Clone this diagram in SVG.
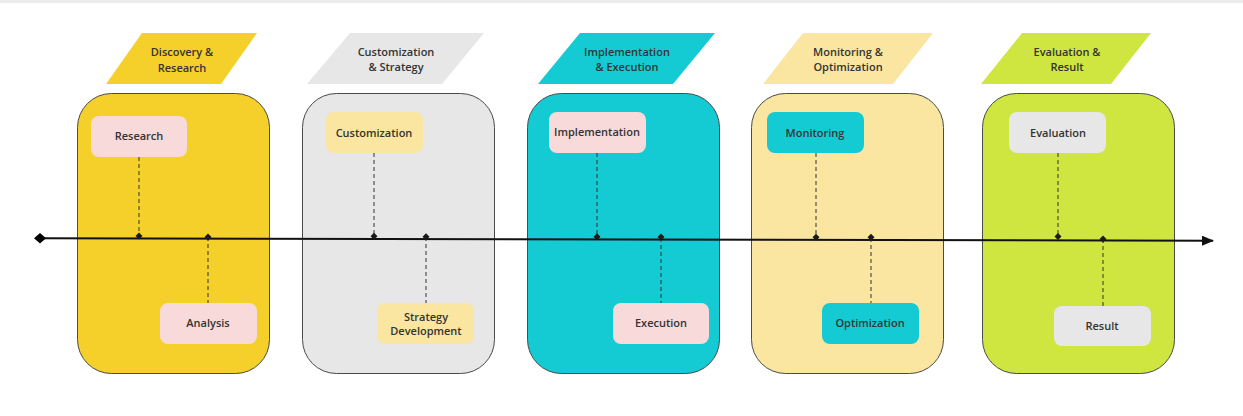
<svg xmlns="http://www.w3.org/2000/svg" width="1243" height="416" viewBox="0 0 1243 416">
<style>
  .bg{fill:#ffffff}
  .stage{stroke:#4a4a4a;stroke-width:1}
  .node{stroke:none}
  .t{font-family:"Open Sans","Noto Sans","Liberation Sans",sans-serif;font-weight:600;font-size:11px;fill:#333333;text-anchor:middle}
  .dash{stroke:#333;stroke-width:1;stroke-dasharray:4 3;fill:none}
  .axis{stroke:#111;stroke-width:2;fill:none}
  .dot{fill:#1a1a1a}
  .yellow{fill:#f5d02a}
  .gray{fill:#e6e7e6}
  .teal{fill:#14cbd3}
  .cream{fill:#fae6a1}
  .lime{fill:#cfe640}
  .pink{fill:#f8dadb}
</style>
<defs>
  <marker id="arrow" viewBox="0 0 12 10" refX="11" refY="5" markerWidth="12" markerHeight="10" markerUnits="userSpaceOnUse" orient="auto">
    <path d="M0,0 L12,5 L0,10 Z" fill="#111"/>
  </marker>
</defs>
<rect class="bg" x="0" y="0" width="1243" height="416"/>
<rect x="0" y="0" width="1243" height="3" fill="#ececec"/>

<g id="stage-discovery">
  <polygon class="yellow" points="142,33 257,33 221,84 106,84"/>
  <text class="t" x="182" y="56">Discovery &amp;</text>
  <text class="t" x="182" y="72">Research</text>
  <rect class="stage yellow" x="77.5" y="93.5" width="192" height="280" rx="34"/>
</g>
<g id="stage-customization">
  <polygon class="gray" points="350,33 484,33 442,84 307,84"/>
  <text class="t" x="396" y="56">Customization</text>
  <text class="t" x="396" y="71">&amp; Strategy</text>
  <rect class="stage gray" x="302.5" y="93.5" width="192" height="280" rx="34"/>
</g>
<g id="stage-implementation">
  <polygon class="teal" points="580,33 715,33 673,84 538,84"/>
  <text class="t" x="627" y="56">Implementation</text>
  <text class="t" x="627" y="71">&amp; Execution</text>
  <rect class="stage teal" x="527.5" y="93.5" width="192" height="280" rx="34"/>
</g>
<g id="stage-monitoring">
  <polygon class="cream" points="803,33 933,33 893,84 763,84"/>
  <text class="t" x="848" y="56">Monitoring &amp;</text>
  <text class="t" x="848" y="71">Optimization</text>
  <rect class="stage cream" x="751.5" y="93.5" width="192" height="280" rx="34"/>
</g>
<g id="stage-evaluation">
  <polygon class="lime" points="1022,33 1151,33 1111,84 981,84"/>
  <text class="t" x="1067" y="56">Evaluation &amp;</text>
  <text class="t" x="1067" y="71">Result</text>
  <rect class="stage lime" x="982.5" y="93.5" width="192" height="280" rx="34"/>
</g>

<g id="connectors">
  <line class="axis" x1="40" y1="238.3" x2="1213" y2="240.7" marker-end="url(#arrow)"/>
  <path d="M40,233 L46,238.3 L40,243.6 L34,238.3 Z" fill="#000"/>
  <line class="dash" x1="139" y1="157" x2="139" y2="236"/>
  <line class="dash" x1="208" y1="237" x2="208" y2="303"/>
  <line class="dash" x1="374" y1="153" x2="374" y2="236"/>
  <line class="dash" x1="426" y1="237" x2="426" y2="303"/>
  <line class="dash" x1="597" y1="153" x2="597" y2="237"/>
  <line class="dash" x1="661" y1="238" x2="661" y2="303"/>
  <line class="dash" x1="816" y1="153" x2="816" y2="237"/>
  <line class="dash" x1="871" y1="238" x2="871" y2="303"/>
  <line class="dash" x1="1058" y1="153" x2="1058" y2="237"/>
  <line class="dash" x1="1103" y1="239" x2="1103" y2="306"/>
  <path class="dot" d="M139,232.5 L142.5,236 L139,239.5 L135.5,236 Z"/>
  <path class="dot" d="M208,233.5 L211.5,237 L208,240.5 L204.5,237 Z"/>
  <path class="dot" d="M374,232.7 L377.5,236.2 L374,239.7 L370.5,236.2 Z"/>
  <path class="dot" d="M426,233.3 L429.5,236.8 L426,240.3 L422.5,236.8 Z"/>
  <path class="dot" d="M597,233.3 L600.5,236.8 L597,240.3 L593.5,236.8 Z"/>
  <path class="dot" d="M661,233.5 L664.5,237 L661,240.5 L657.5,237 Z"/>
  <path class="dot" d="M816,233.7 L819.5,237.2 L816,240.7 L812.5,237.2 Z"/>
  <path class="dot" d="M871,233.8 L874.5,237.3 L871,240.8 L867.5,237.3 Z"/>
  <path class="dot" d="M1058,233 L1061.5,236.5 L1058,240 L1054.5,236.5 Z"/>
  <path class="dot" d="M1103,235.5 L1106.5,239 L1103,242.5 L1099.5,239 Z"/>
</g>

<g id="node-research">
  <rect class="node pink" x="91" y="116" width="96" height="41" rx="8"/>
  <text class="t" x="139" y="140">Research</text>
</g>
<g id="node-analysis">
  <rect class="node pink" x="160" y="303" width="97" height="41" rx="8"/>
  <text class="t" x="208" y="327">Analysis</text>
</g>
<g id="node-customization">
  <rect class="node cream" x="326" y="112" width="97" height="41" rx="8"/>
  <text class="t" x="374" y="137">Customization</text>
</g>
<g id="node-strategy">
  <rect class="node cream" x="377" y="303" width="97" height="41" rx="8"/>
  <text class="t" x="426" y="321">Strategy</text>
  <text class="t" x="426" y="335">Development</text>
</g>
<g id="node-implementation">
  <rect class="node pink" x="549" y="112" width="97" height="41" rx="8"/>
  <text class="t" x="597" y="136">Implementation</text>
</g>
<g id="node-execution">
  <rect class="node pink" x="613" y="303" width="96" height="41" rx="8"/>
  <text class="t" x="661" y="327">Execution</text>
</g>
<g id="node-monitoring">
  <rect class="node teal" x="767" y="112" width="97" height="41" rx="8"/>
  <text class="t" x="815" y="137">Monitoring</text>
</g>
<g id="node-optimization">
  <rect class="node teal" x="822" y="303" width="97" height="41" rx="8"/>
  <text class="t" x="870" y="327">Optimization</text>
</g>
<g id="node-evaluation">
  <rect class="node gray" x="1009" y="112" width="97" height="41" rx="8"/>
  <text class="t" x="1058" y="137">Evaluation</text>
</g>
<g id="node-result">
  <rect class="node gray" x="1054" y="306" width="97" height="40" rx="8"/>
  <text class="t" x="1102" y="330">Result</text>
</g>
</svg>
